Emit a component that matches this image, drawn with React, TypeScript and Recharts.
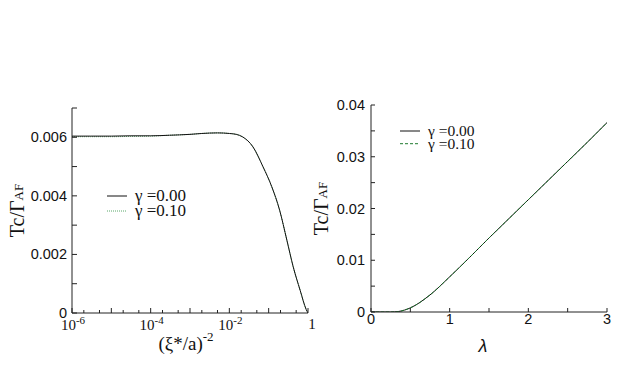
import React from "react";
import { LineChart, Line, XAxis, YAxis, Legend } from "recharts";

// left panel: Tc vs (xi*/a)^-2, log x
const leftX = [1e-6, 3e-6, 1e-5, 3e-5, 1e-4, 3e-4, 1e-3, 2e-3, 5e-3, 1e-2, 0.015, 0.022, 0.04, 0.072, 0.12, 0.19, 0.29, 0.42, 0.63, 0.9, 1];
const leftG0 = [0.00604, 0.00604, 0.00604, 0.00605, 0.00605, 0.00607, 0.0061, 0.00613, 0.00615, 0.00613, 0.0061, 0.00601, 0.00567, 0.00499, 0.00431, 0.00351, 0.00249, 0.00158, 0.00078, 0.00012, 0];
const leftG10 = [0.00602, 0.00602, 0.00602, 0.00603, 0.00604, 0.00607, 0.0061, 0.00613, 0.00615, 0.00613, 0.0061, 0.00601, 0.00567, 0.00499, 0.00431, 0.00351, 0.00249, 0.00158, 0.00078, 0.00012, 0];
const leftXTicks = [1e-6, 2e-6, 5e-6, 1e-5, 2e-5, 5e-5, 1e-4, 2e-4, 5e-4, 1e-3, 2e-3, 5e-3, 1e-2, 2e-2, 5e-2, 0.1, 0.2, 0.5, 1];
const leftXLabels: Record<string, string> = { "0.000001": "-6", "0.0001": "-4", "0.01": "-2", "1": "" };
const leftXDecades = [1e-6, 1e-5, 1e-4, 1e-3, 1e-2, 0.1, 1];
const leftYTicks = [0, 0.001, 0.002, 0.003, 0.004, 0.005, 0.006, 0.007];
const leftYLabels = [0, 0.002, 0.004, 0.006];

// right panel: Tc vs lambda
const lambda = [0, 0.25, 0.35, 0.5, 0.75, 1, 1.25, 1.5, 1.75, 2, 2.25, 2.5, 2.75, 3];
const rightG0 = [0, 0, 0.0001, 0.0008, 0.0033, 0.0068, 0.0105, 0.0143, 0.018, 0.0217, 0.0254, 0.0291, 0.0328, 0.0366];
const rightG10 = [0, 0, 0.0001, 0.0008, 0.0033, 0.0068, 0.0105, 0.0143, 0.018, 0.0217, 0.0254, 0.0291, 0.0328, 0.0366];
const rightXTicks = [0, 0.5, 1, 1.5, 2, 2.5, 3];
const rightXLabels = [0, 1, 2, 3];
const rightYTicks = [0, 0.005, 0.01, 0.015, 0.02, 0.025, 0.03, 0.035, 0.04];
const rightYLabels = [0, 0.01, 0.02, 0.03, 0.04];

const leftData = leftX.map((x, i) => ({ x, g0: leftG0[i], g10: leftG10[i] }));
const rightData = lambda.map((x, i) => ({ x, g0: rightG0[i], g10: rightG10[i] }));

const SERIF = "'Liberation Serif', 'DejaVu Serif', serif";
const SANS = "'Liberation Sans', Arial, sans-serif";
const FRAME = "#222";

const has = (arr: number[], v: number) => arr.some((a) => Math.abs(a - v) < 1e-12);

// tick marks drawn inward, labels optional
function InTick(props: any) {
  const { x, y, payload, side, len, label } = props;
  const v = payload.value;
  const l = typeof len === "function" ? len(v) : len;
  let line = null;
  if (side === "bottom") line = <line x1={x} y1={y} x2={x} y2={y - l} stroke={FRAME} />;
  if (side === "top") line = <line x1={x} y1={y} x2={x} y2={y + l} stroke={FRAME} />;
  if (side === "left") line = <line x1={x} y1={y} x2={x + l} y2={y} stroke={FRAME} />;
  if (side === "right") line = <line x1={x} y1={y} x2={x - l} y2={y} stroke={FRAME} />;
  return (
    <g>
      {line}
      {label ? label(x, y, v) : null}
    </g>
  );
}

const leftXLabel = (x: number, y: number, v: number) => {
  const key = String(v);
  if (!(key in leftXLabels)) return null;
  if (v === 1)
    return (
      <text x={x + 4} y={y + 16} textAnchor="middle" style={{ fontFamily: SERIF }} fontSize={15} fill="#111">
        1
      </text>
    );
  return (
    <text x={x + 1} y={y + 17} textAnchor="middle" style={{ fontFamily: SERIF }} fontSize={15} fill="#111">
      10
      <tspan fontSize={11} dy={-6}>{leftXLabels[key]}</tspan>
    </text>
  );
};

const leftYLabel = (x: number, y: number, v: number) =>
  has(leftYLabels, v) ? (
    <text x={x - 5} y={y + 5} textAnchor="end" style={{ fontFamily: SANS }} fontSize={14.5} fill="#111">
      {v === 0 ? "0" : v.toFixed(3)}
    </text>
  ) : null;

const rightXLabel = (x: number, y: number, v: number) =>
  has(rightXLabels, v) ? (
    <text x={x} y={y + 12} textAnchor="middle" style={{ fontFamily: SANS }} fontSize={14.5} fill="#111">
      {String(v)}
    </text>
  ) : null;

const rightYLabel = (x: number, y: number, v: number) =>
  has(rightYLabels, v) ? (
    <text x={x - 6} y={y + 5} textAnchor="end" style={{ fontFamily: SANS }} fontSize={14.5} fill="#111">
      {v === 0 ? "0" : v.toFixed(2)}
    </text>
  ) : null;

function YTitle(props: any) {
  const { viewBox, bx } = props;
  const cy = viewBox.y + viewBox.height / 2;
  return (
    <text
      x={bx}
      y={cy}
      transform={`rotate(-90, ${bx}, ${cy})`}
      textAnchor="middle"
      style={{ fontFamily: SERIF }}
      fontSize={20}
      fill="#111"
    >
      Tc/Γ<tspan fontSize={13} dy={-1}>AF</tspan>
    </text>
  );
}

function XTitle(props: any) {
  const { viewBox, shift, by, kind } = props;
  const cx = viewBox.x + viewBox.width / 2 + shift;
  const ty = viewBox.y + by;
  if (kind === "xi")
    return (
      <text x={cx} y={ty} textAnchor="middle" style={{ fontFamily: SERIF }} fontSize={19} fill="#111">
        (ξ*/a)<tspan fontSize={13} dy={-9}>-2</tspan>
      </text>
    );
  return (
    <text x={cx} y={ty} textAnchor="middle" style={{ fontFamily: SANS, fontStyle: "italic" }} fontSize={18} fill="#111">
      λ
    </text>
  );
}

function LegendBox(props: any) {
  const { items, fontSize, gap } = props;
  return (
    <svg width={140} height={gap * items.length + 8} style={{ display: "block", overflow: "visible" }}>
      {items.map((it: any, i: number) => {
        const cy = 8 + i * gap;
        return (
          <g key={it.name}>
            <line x1={0} x2={20} y1={cy} y2={cy} stroke={it.color} strokeDasharray={it.dash} />
            <text x={28} y={cy + 5} style={{ fontFamily: SERIF }} fontSize={fontSize} fill="#111">
              {it.name}
            </text>
          </g>
        );
      })}
    </svg>
  );
}

const leftLegend = [
  { name: "γ =0.00", color: "#111", dash: undefined },
  { name: "γ =0.10", color: "#5aa86a", dash: "1 1" },
];
const rightLegend = [
  { name: "γ =0.00", color: "#111", dash: undefined },
  { name: "γ =0.10", color: "#1f7a2f", dash: "3 2" },
];

export default function App() {
  return (
    <div style={{ position: "absolute", left: 0, top: 0, width: 623, height: 368, background: "#fff" }}>
      <div style={{ position: "absolute", left: 0, top: 0 }}>
        <LineChart width={320} height={368} data={leftData} margin={{ top: 108, right: 12, bottom: 0, left: 0 }} style={{ overflow: "visible" }}>
          <XAxis
            dataKey="x"
            type="number"
            scale="log"
            domain={[1e-6, 1]}
            allowDataOverflow
            ticks={leftXTicks}
            interval={0}
            height={55}
            tickSize={0}
            tickMargin={0}
            tickLine={false}
            axisLine={{ stroke: FRAME }}
            tick={<InTick side="bottom" len={(v: number) => (has(leftXDecades, v) ? 5 : 3)} label={leftXLabel} />}
            label={<XTitle kind="xi" shift={-4} by={37} />}
          />
          <XAxis
            xAxisId="top"
            orientation="top"
            dataKey="x"
            type="number"
            scale="log"
            domain={[1e-6, 1]}
            allowDataOverflow
            ticks={leftXTicks}
            interval={0}
            height={0}
            tickSize={0}
            tickMargin={0}
            tickLine={false}
            axisLine={{ stroke: FRAME }}
            tick={<InTick side="top" len={(v: number) => (has(leftXDecades, v) ? 5 : 3)} />}
          />
          <YAxis
            type="number"
            domain={[0, 0.007]}
            allowDataOverflow
            ticks={leftYTicks}
            interval={0}
            width={72}
            tickSize={0}
            tickMargin={0}
            tickLine={false}
            axisLine={{ stroke: FRAME }}
            tick={<InTick side="left" len={5} label={leftYLabel} />}
            label={<YTitle bx={24} />}
          />
          <YAxis
            yAxisId="right"
            orientation="right"
            type="number"
            domain={[0, 0.007]}
            allowDataOverflow
            ticks={leftYTicks}
            interval={0}
            width={0}
            tickSize={0}
            tickMargin={0}
            tickLine={false}
            axisLine={{ stroke: FRAME }}
            tick={<InTick side="right" len={5} />}
          />
          <Line dataKey="g10" name="γ =0.10" type="monotone" stroke="#5aa86a" strokeWidth={1} strokeDasharray="1 1" dot={false} isAnimationActive={false} />
          <Line dataKey="g0" name="γ =0.00" type="monotone" stroke="#111" strokeWidth={1} dot={false} isAnimationActive={false} />
          <Legend
            layout="vertical"
            verticalAlign="middle"
            align="center"
            content={() => <LegendBox items={leftLegend} fontSize={17} gap={15} />}
            wrapperStyle={{ position: "absolute", left: 107, top: 188, width: 140 }}
          />
        </LineChart>
      </div>
      <div style={{ position: "absolute", left: 300, top: 0 }}>
        <LineChart width={323} height={368} data={rightData} margin={{ top: 105, right: 16, bottom: 0, left: 0 }}>
          <XAxis
            dataKey="x"
            type="number"
            domain={[0, 3]}
            allowDataOverflow
            ticks={rightXTicks}
            interval={0}
            height={56}
            tickSize={0}
            tickMargin={0}
            tickLine={false}
            axisLine={{ stroke: FRAME }}
            tick={<InTick side="bottom" len={4} label={rightXLabel} />}
            label={<XTitle kind="lambda" shift={-6} by={40} />}
          />
          <XAxis
            xAxisId="top"
            orientation="top"
            dataKey="x"
            type="number"
            domain={[0, 3]}
            allowDataOverflow
            ticks={rightXTicks}
            interval={0}
            height={0}
            tickSize={0}
            tickMargin={0}
            tickLine={false}
            axisLine={{ stroke: FRAME }}
            tick={<InTick side="top" len={4} />}
          />
          <YAxis
            type="number"
            domain={[0, 0.04]}
            allowDataOverflow
            ticks={rightYTicks}
            interval={0}
            width={71}
            tickSize={0}
            tickMargin={0}
            tickLine={false}
            axisLine={{ stroke: FRAME }}
            tick={<InTick side="left" len={4} label={rightYLabel} />}
            label={<YTitle bx={28} />}
          />
          <YAxis
            yAxisId="right"
            orientation="right"
            type="number"
            domain={[0, 0.04]}
            allowDataOverflow
            ticks={rightYTicks}
            interval={0}
            width={0}
            tickSize={0}
            tickMargin={0}
            tickLine={false}
            axisLine={{ stroke: FRAME }}
            tick={<InTick side="right" len={4} />}
          />
          <Line dataKey="g0" name="γ =0.00" type="monotone" stroke="#111" strokeWidth={1} dot={false} isAnimationActive={false} />
          <Line dataKey="g10" name="γ =0.10" type="monotone" stroke="#1f7a2f" strokeWidth={1} strokeDasharray="3 2" dot={false} isAnimationActive={false} />
          <Legend
            layout="vertical"
            verticalAlign="middle"
            align="center"
            content={() => <LegendBox items={rightLegend} fontSize={15.5} gap={12.7} />}
            wrapperStyle={{ position: "absolute", left: 100, top: 123, width: 140 }}
          />
        </LineChart>
      </div>
    </div>
  );
}
